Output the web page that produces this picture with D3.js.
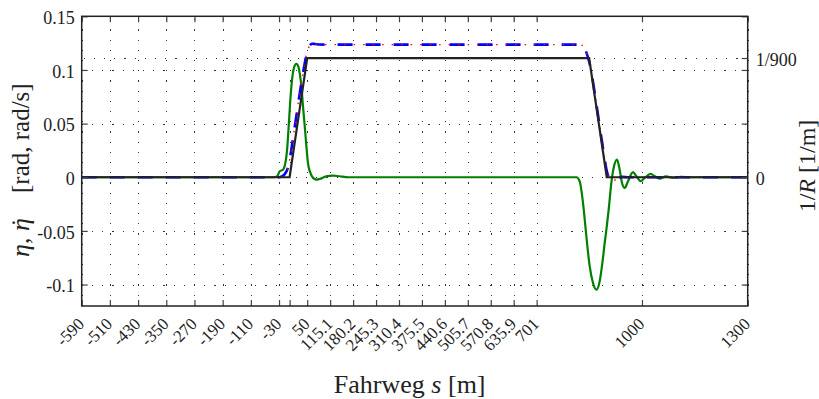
<!DOCTYPE html>
<html>
<head>
<meta charset="utf-8">
<script src="https://cdn.jsdelivr.net/npm/d3@7"></script>
<style>
  body { margin: 0; background: #fff; }
  svg { display: block; }
</style>
</head>
<body>
<svg id="chart" width="819" height="399"></svg>
<script>
// Track position ticks (m); 0 carries a tick and grid line but no label
const xTickValues = [-590, -510, -430, -350, -270, -190, -110, -30, 50, 115.1, 180.2, 245.3,
  310.4, 375.5, 440.6, 505.7, 570.8, 635.9, 701, 1000, 1300];
const xTickLabels = ["-590", "-510", "-430", "-350", "-270", "-190", "-110", "-30", "50", "115.1",
  "180.2", "245.3", "310.4", "375.5", "440.6", "505.7", "570.8", "635.9", "701", "1000", "1300"];
const xUnlabeledTicks = [0];

// Left axis: angle / angular rate
const yTickValues = [-0.1, -0.05, 0, 0.05, 0.1, 0.15];
const yTickLabels = ["-0.1", "-0.05", "0", "0.05", "0.1", "0.15"];

// Right axis: curvature 1/R
const curvTickValues = [0, 1 / 900];
const curvTickLabels = ["0", "1/900"];

// Curvature of the track (black)
const curvS = [-590, 0, 50, 850, 900, 1300];
const curvK = [0, 0, 1 / 900, 1 / 900, 0, 0];

// Angle eta (blue dash-dot with red dotted overlay)
const etaS = [-590, -30, -22, -15, -8, -3, 2, 10, 20, 30, 38, 44, 48, 53, 58, 64, 72, 85, 110,
  820, 828, 834, 839, 844, 849, 855, 865, 875, 885, 893, 899, 905, 912, 922, 932, 944, 960, 1300];
const etaV = [0, 0, 0.0008, 0.0025, 0.006, 0.011, 0.02, 0.037, 0.059, 0.081, 0.097, 0.108, 0.1145,
  0.12, 0.1232, 0.1244, 0.1242, 0.1237, 0.1236,
  0.1236, 0.1232, 0.1218, 0.119, 0.1145, 0.109, 0.1005, 0.0805, 0.0585, 0.0365, 0.0195, 0.0075,
  0.0005, -0.0022, -0.0026, -0.0012, 0.0003, 0, 0];

// Angular rate eta-dot (green)
const etaRateS = [-590, -45, -35, -28, -19, -12, -7, -2.6, 2, 7, 12.5, 19, 24, 28.6, 33.4, 38, 43,
  47.6, 52, 59, 66.5, 76, 85, 104, 123, 142, 166,
  814, 823, 832.6, 839.4, 845, 851.6, 861, 871, 880, 887.6, 894.2, 899, 905.5, 913, 920.6, 929,
  936.7, 943.3, 951, 960.4, 974.6, 984, 996.5, 1007.7, 1024.7, 1036, 1050, 1068, 1088, 1110, 1140, 1300];
const etaRateV = [0, 0, 0.001, 0.0056, 0.007, 0.0134, 0.026, 0.0475, 0.072, 0.091, 0.102, 0.1056,
  0.104, 0.097, 0.085, 0.066, 0.0475, 0.029, 0.0134, 0.004, -0.0006, -0.0022, -0.0016, 0.0009,
  0.0016, 0.0009, 0,
  0, -0.0037, -0.0239, -0.0457, -0.0643, -0.0829, -0.0985, -0.1047, -0.0969, -0.0798, -0.0612,
  -0.0488, -0.0301, -0.0053, 0.0102, 0.0165, 0.0071, -0.0053, -0.0099, -0.0037, 0.0047, 0.0009,
  -0.0037, -0.0006, 0.0031, 0.0009, -0.0012, 0.0008, -0.0005, 0.0003, 0, 0];

const FONT = "'Liberation Serif', 'Times New Roman', serif";
const plot = { left: 81.7, right: 747.7, top: 16.3, bottom: 306 };

const svg = d3.select("#chart");

const x = d3.scaleLinear().domain([-590, 1300]).range([plot.left, plot.right]);
const yL = d3.scaleLinear().domain([-0.12, 0.15]).range([plot.bottom, plot.top]);
const yR = d3.scaleLinear().domain([-0.0012, 0.0015]).range([plot.bottom, plot.top]);

const gridX = xTickValues.concat(xUnlabeledTicks);
const labelOf = v => { const i = xTickValues.indexOf(v); return i < 0 ? "" : xTickLabels[i]; };
const plotW = plot.right - plot.left, plotH = plot.bottom - plot.top;

function styleGrid(g) {
  g.select(".domain").remove();
  g.selectAll(".tick line")
    .attr("stroke", "#333").attr("stroke-width", 1)
    .attr("stroke-dasharray", "1.2,9").attr("shape-rendering", "crispEdges");
  g.selectAll("text").remove();
}

// grid
svg.append("g").attr("transform", `translate(0,${plot.bottom})`)
  .call(d3.axisBottom(x).tickValues(gridX).tickSize(-plotH).tickFormat(""))
  .call(styleGrid);
svg.append("g").attr("transform", `translate(${plot.left},0)`)
  .call(d3.axisLeft(yL).tickValues(yTickValues).tickSize(-plotW).tickFormat(""))
  .call(styleGrid);
svg.append("g").attr("transform", `translate(${plot.right},0)`)
  .call(d3.axisRight(yR).tickValues([curvTickValues[1]]).tickSize(-plotW).tickFormat(""))
  .call(styleGrid);

// data lines
const pts = (s, v) => s.map((d, i) => [d, v[i]]);
const lineL = d3.line().x(d => x(d[0])).y(d => yL(d[1])).curve(d3.curveMonotoneX);
const lineR = d3.line().x(d => x(d[0])).y(d => yR(d[1]));

svg.append("path").datum(pts(etaRateS, etaRateV)).attr("d", lineL)
  .attr("fill", "none").attr("stroke", "#008000").attr("stroke-width", 2.2);
svg.append("path").datum(pts(etaS, etaV)).attr("d", lineL)
  .attr("fill", "none").attr("stroke", "#0000ff").attr("stroke-width", 2.6)
  .attr("stroke-dasharray", "15,13");
svg.append("path").datum(pts(etaS, etaV)).attr("d", lineL)
  .attr("fill", "none").attr("stroke", "#ff0000").attr("stroke-width", 1.4)
  .attr("stroke-dasharray", "1.5,8");
svg.append("path").datum(pts(curvS, curvK)).attr("d", lineR)
  .attr("fill", "none").attr("stroke", "#222").attr("stroke-width", 2.2);

// axes (ticks point inward)
function styleAxis(g, size) {
  g.select(".domain").remove();
  g.attr("font-family", FONT).attr("font-size", size);
  g.selectAll(".tick line").attr("stroke", "#444").attr("stroke-width", 1.2);
  g.selectAll(".tick text").attr("fill", "#222");
}

const axB = svg.append("g").attr("transform", `translate(0,${plot.bottom})`)
  .call(d3.axisBottom(x).tickValues(gridX).tickSizeInner(-6).tickSizeOuter(0).tickFormat(labelOf))
  .call(styleAxis, 17);
axB.selectAll(".tick text")
  .attr("x", 0).attr("y", 0).attr("dy", null)
  .attr("text-anchor", "end")
  .attr("transform", "translate(3,19) rotate(-45)");

svg.append("g").attr("transform", `translate(0,${plot.top})`)
  .call(d3.axisTop(x).tickValues(gridX).tickSizeInner(-6).tickSizeOuter(0).tickFormat(""))
  .call(styleAxis, 17);

svg.append("g").attr("transform", `translate(${plot.left},0)`)
  .call(d3.axisLeft(yL).tickValues(yTickValues).tickSizeInner(-6).tickSizeOuter(0).tickPadding(7)
    .tickFormat((d, i) => yTickLabels[i]))
  .call(styleAxis, 18)
  .selectAll(".tick text").attr("dy", "0.4em");

svg.append("g").attr("transform", `translate(${plot.right},0)`)
  .call(d3.axisRight(yL).tickValues(yTickValues).tickSizeInner(-6).tickSizeOuter(0).tickFormat(""))
  .call(styleAxis, 18);

svg.append("g").attr("transform", `translate(${plot.right},0)`)
  .call(d3.axisRight(yR).tickValues(curvTickValues).tickSizeInner(-6).tickSizeOuter(0).tickPadding(8)
    .tickFormat((d, i) => curvTickLabels[i]))
  .call(styleAxis, 18)
  .selectAll(".tick text").attr("dy", "0.4em");

// frame
svg.append("rect")
  .attr("x", plot.left).attr("y", plot.top).attr("width", plotW).attr("height", plotH)
  .attr("fill", "none").attr("stroke", "#222").attr("stroke-width", 1.5);

// axis titles
const xTitle = svg.append("text")
  .attr("x", (plot.left + plot.right) / 2 - 5).attr("y", 393)
  .attr("text-anchor", "middle").attr("font-family", FONT).attr("font-size", 26).attr("fill", "#222");
xTitle.append("tspan").text("Fahrweg ");
xTitle.append("tspan").attr("font-style", "italic").text("s");
xTitle.append("tspan").text(" [m]");

// left title, read bottom to top: symbols, then units
const yTitleG = svg.append("g").attr("transform", "translate(29,257) rotate(-90)");
const ySym = yTitleG.append("text")
  .attr("font-family", FONT).attr("font-size", 26).attr("fill", "#222");
ySym.append("tspan").attr("font-style", "italic").text("η");
ySym.append("tspan").text(", ");
ySym.append("tspan").attr("font-style", "italic").text("η");
{
  const box = ySym.node().getExtentOfChar(3);
  yTitleG.append("text")
    .attr("x", box.x + box.width / 2 + 2).attr("y", 0)
    .attr("text-anchor", "middle").attr("font-family", FONT).attr("font-size", 26)
    .attr("fill", "#222").text("˙");
}
yTitleG.append("text").attr("x", 64)
  .attr("font-family", FONT).attr("font-size", 25).attr("fill", "#222")
  .text("[rad, rad/s]");

const rTitle = svg.append("g").attr("transform", "translate(815,166) rotate(-90)")
  .append("text").attr("text-anchor", "middle").attr("font-family", FONT)
  .attr("font-size", 24).attr("fill", "#222");
rTitle.append("tspan").text("1/");
rTitle.append("tspan").attr("font-style", "italic").text("R");
rTitle.append("tspan").text("  [1/m]");
</script>
</body>
</html>
